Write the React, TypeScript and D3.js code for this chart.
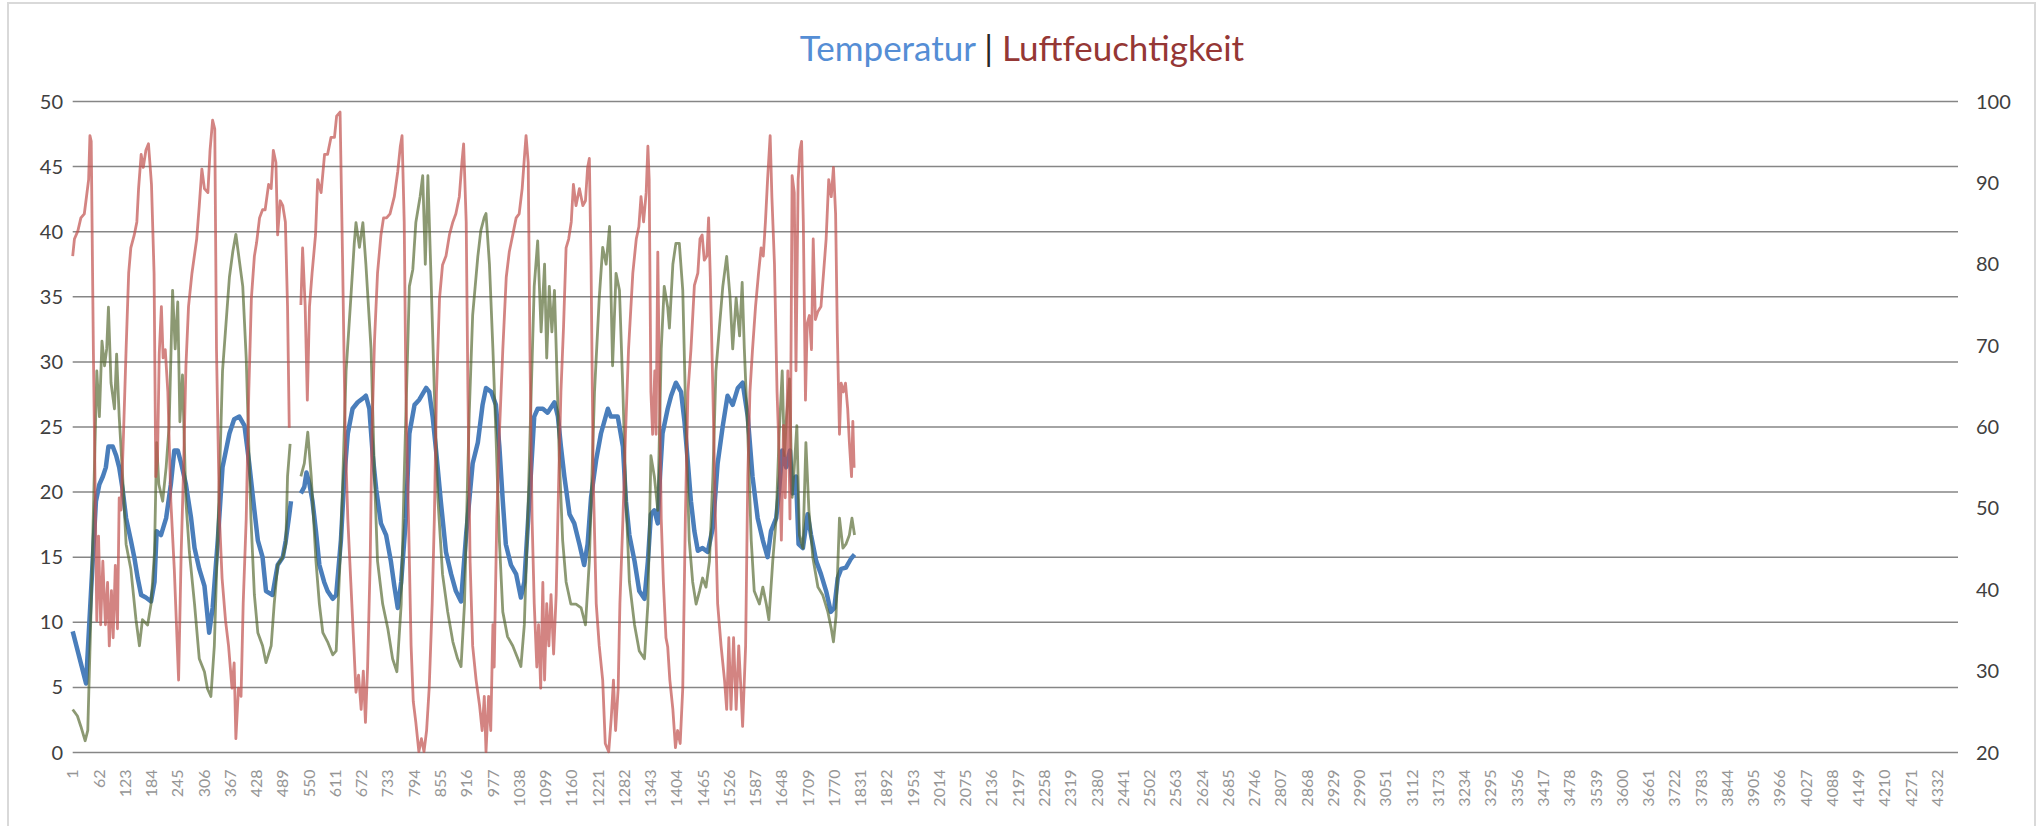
import React from "react";
import * as d3 from "d3";

const W = 2041;
const H = 826;

// category axis: 1..4380, labels every 61st category
const categoryCount = 4380;
const xTickLabels: number[] = d3.range(1, 4333, 61);
const leftTicks = [0, 5, 10, 15, 20, 25, 30, 35, 40, 45, 50];
const rightTicks = [20, 30, 40, 50, 60, 70, 80, 90, 100];

type Pt = [number, number | null];

// Temperatur (blue, left axis)
const temperatur: Pt[] = [
  [1, 9.3], [32, 5.3], [55, 19.3], [63, 20.6], [71, 21.2], [78, 21.9], [84, 23.5], [94, 23.5], [102, 22.8], [109, 21.9],
  [117, 20.2], [125, 18.0], [136, 16.3], [144, 15.0], [152, 13.4], [160, 12.1], [171, 11.9], [183, 11.6], [191, 13.1], [196, 17.0],
  [206, 16.7], [218, 18.0], [229, 20.6], [237, 23.2], [245, 23.2], [253, 22.2], [264, 20.6], [276, 18.0], [284, 15.7], [295, 14.1],
  [307, 12.8], [318, 9.2], [326, 11.1], [338, 16.3], [349, 21.9], [365, 24.5], [376, 25.6], [388, 25.8], [400, 25.1], [411, 22.2],
  [423, 18.6], [431, 16.3], [442, 15.0], [450, 12.4], [465, 12.1], [477, 14.4], [489, 15.0], [496, 16.3], [503, 18.0], [508, 19.3],
  [518, null],
  [531, 19.9], [539, 20.4], [544, 21.5], [551, 20.6], [558, 19.3], [566, 17.0], [574, 14.4], [585, 13.1], [593, 12.4], [605, 11.8],
  [613, 12.1], [624, 16.3], [632, 21.2], [640, 24.5], [651, 26.4], [663, 26.9], [675, 27.2], [682, 27.4], [690, 26.4], [698, 22.8],
  [706, 20.2], [717, 17.6], [729, 16.7], [740, 14.7], [748, 12.8], [756, 11.1], [764, 13.1], [775, 18.0], [783, 24.5], [795, 26.7],
  [806, 27.1], [822, 28.0], [829, 27.7], [837, 25.8], [845, 23.2], [856, 19.3], [868, 15.4], [880, 13.7], [891, 12.4], [903, 11.6],
  [915, 16.8], [930, 22.2], [942, 23.8], [953, 26.7], [961, 28.0], [973, 27.7], [984, 26.7], [992, 23.5], [1000, 19.3], [1007, 16.0],
  [1019, 14.4], [1031, 13.7], [1042, 11.9], [1050, 13.1], [1062, 19.6], [1073, 25.8], [1081, 26.4], [1093, 26.4], [1104, 26.1], [1120, 26.9],
  [1128, 25.8], [1135, 23.5], [1143, 21.2], [1155, 18.3], [1166, 17.6], [1178, 16.0], [1189, 14.4], [1197, 16.0], [1205, 19.6], [1217, 22.5],
  [1228, 24.5], [1244, 26.4], [1251, 25.8], [1267, 25.8], [1279, 23.5], [1286, 19.3], [1294, 16.7], [1306, 14.7], [1317, 12.4], [1329, 11.8],
  [1337, 14.7], [1344, 18.3], [1352, 18.6], [1360, 17.6], [1364, 20.6], [1371, 24.5], [1383, 26.4], [1391, 27.4], [1402, 28.4], [1414, 27.7],
  [1422, 25.4], [1430, 22.2], [1437, 19.3], [1445, 17.0], [1453, 15.5], [1464, 15.7], [1476, 15.4], [1488, 17.3], [1499, 22.2], [1511, 25.1],
  [1522, 27.4], [1534, 26.7], [1546, 28.0], [1557, 28.4], [1569, 25.8], [1580, 21.2], [1592, 18.0], [1604, 16.3], [1615, 15.0], [1623, 17.0],
  [1635, 18.0], [1642, 20.2], [1649, 23.2], [1658, 21.9], [1667, 23.2], [1673, 19.9], [1681, 21.2], [1687, 16.0], [1697, 15.7], [1708, 18.3],
  [1716, 16.7], [1728, 14.7], [1739, 13.7], [1751, 12.4], [1762, 10.8], [1770, 11.1], [1778, 13.4], [1786, 14.1], [1797, 14.2], [1809, 14.9],
  [1817, 15.2],
];

// second temperature series (olive, left axis)
const temperatur2: Pt[] = [
  [1, 3.3], [12, 2.8], [20, 2.0], [30, 0.9], [36, 1.7], [44, 11.4], [51, 21.2], [57, 29.3], [63, 25.8], [69, 31.6],
  [75, 29.7], [80, 31.0], [84, 34.2], [90, 28.4], [98, 26.4], [103, 30.6], [109, 25.8], [117, 21.2], [125, 16.0], [136, 14.1],
  [148, 10.2], [156, 8.2], [163, 10.2], [175, 9.8], [183, 11.4], [191, 15.4], [196, 23.8], [201, 20.6], [210, 19.3], [218, 21.9],
  [225, 25.1], [233, 35.5], [239, 31.0], [245, 34.6], [250, 25.4], [256, 29.0], [264, 19.3], [272, 15.4], [284, 11.4], [295, 7.2],
  [307, 6.2], [314, 4.9], [322, 4.3], [330, 8.2], [342, 21.2], [349, 29.3], [357, 32.9], [365, 36.5], [373, 38.5], [380, 39.8],
  [388, 37.8], [396, 35.8], [404, 30.3], [415, 18.0], [423, 12.1], [431, 9.2], [442, 8.2], [450, 6.9], [462, 8.2], [469, 11.4],
  [477, 14.4], [489, 15.0], [496, 16.0], [500, 21.2], [506, 23.7],
  [518, null],
  [531, 21.2], [539, 22.2], [547, 24.6], [555, 21.2], [566, 14.7], [574, 11.4], [582, 9.2], [593, 8.5], [605, 7.5], [613, 7.8],
  [624, 16.3], [636, 29.3], [647, 34.9], [655, 39.1], [659, 40.7], [667, 38.8], [675, 40.7], [682, 37.5], [694, 31.0], [702, 21.2],
  [709, 14.7], [721, 11.4], [733, 9.5], [744, 7.2], [754, 6.2], [764, 11.4], [771, 21.2], [783, 35.8], [791, 37.1], [798, 40.7],
  [808, 42.7], [814, 44.3], [820, 37.5], [826, 44.3], [833, 36.8], [841, 27.7], [849, 19.6], [860, 13.7], [872, 10.8], [884, 8.5],
  [895, 7.2], [903, 6.6], [911, 11.4], [922, 26.0], [930, 33.6], [942, 38.1], [949, 40.1], [957, 41.1], [961, 41.4], [969, 37.5],
  [977, 31.0], [984, 24.5], [992, 16.3], [1000, 10.8], [1011, 8.9], [1023, 8.2], [1035, 7.2], [1042, 6.6], [1050, 9.8], [1058, 18.0],
  [1066, 27.7], [1073, 35.8], [1081, 39.3], [1089, 32.3], [1097, 37.5], [1102, 30.3], [1108, 35.8], [1114, 32.3], [1120, 35.5], [1125, 30.0],
  [1131, 22.8], [1139, 16.3], [1147, 13.1], [1158, 11.4], [1170, 11.4], [1182, 11.1], [1192, 9.8], [1201, 14.7], [1213, 27.7], [1224, 34.9],
  [1232, 38.8], [1240, 37.5], [1248, 40.4], [1255, 29.7], [1263, 36.8], [1271, 35.5], [1279, 27.7], [1286, 19.6], [1294, 13.1], [1306, 9.8],
  [1317, 7.8], [1329, 7.2], [1337, 11.4], [1344, 22.8], [1352, 21.2], [1360, 18.6], [1368, 31.0], [1375, 35.8], [1383, 34.2], [1387, 32.6],
  [1395, 37.5], [1402, 39.1], [1410, 39.1], [1418, 35.5], [1426, 24.5], [1433, 16.3], [1441, 13.1], [1449, 11.4], [1457, 12.4], [1464, 13.4],
  [1472, 12.7], [1480, 14.7], [1488, 21.2], [1495, 29.3], [1503, 32.6], [1511, 35.8], [1520, 38.1], [1528, 34.9], [1534, 31.0], [1542, 34.9],
  [1550, 32.0], [1556, 36.1], [1561, 31.0], [1569, 24.5], [1577, 16.3], [1584, 12.4], [1596, 11.4], [1604, 12.7], [1612, 11.4], [1618, 10.2],
  [1627, 14.7], [1635, 18.0], [1642, 24.5], [1649, 29.3], [1654, 22.8], [1659, 25.8], [1666, 28.7], [1672, 19.6], [1677, 21.9], [1683, 25.1],
  [1689, 16.7], [1697, 15.7], [1704, 23.8], [1711, 18.6], [1720, 15.0], [1732, 12.7], [1743, 12.1], [1755, 10.8], [1763, 9.5], [1768, 8.5],
  [1774, 10.5], [1782, 18.0], [1790, 15.7], [1797, 16.0], [1805, 16.7], [1811, 18.0], [1817, 16.7],
];

// Luftfeuchtigkeit (red, right axis)
const luftfeuchtigkeit: Pt[] = [
  [1, 81.0], [5, 83.1], [13, 84.1], [20, 85.7], [28, 86.2], [33, 88.3], [38, 90.4], [41, 95.8], [44, 95.1], [49, 69.5],
  [54, 48.7], [57, 36.2], [61, 46.6], [66, 35.7], [71, 43.5], [77, 35.7], [82, 40.9], [86, 33.1], [91, 39.9], [95, 34.1],
  [100, 43.0], [105, 35.2], [109, 51.3], [113, 49.8], [119, 59.1], [125, 69.5], [131, 78.9], [136, 82.0], [144, 83.6], [150, 85.2],
  [154, 89.3], [160, 93.5], [165, 91.9], [171, 94.0], [177, 94.8], [184, 89.8], [190, 78.9], [194, 53.9], [198, 56.0], [202, 69.0],
  [207, 74.8], [211, 68.5], [216, 69.5], [222, 64.3], [229, 50.8], [237, 42.5], [242, 35.7], [247, 28.9], [253, 44.6], [258, 53.9],
  [264, 67.5], [270, 74.8], [278, 78.9], [289, 83.1], [295, 87.2], [301, 91.7], [307, 89.3], [315, 88.8], [320, 94.0], [326, 97.7],
  [331, 96.6], [335, 69.5], [342, 48.7], [348, 41.4], [356, 36.2], [363, 33.1], [371, 27.9], [376, 31.0], [380, 21.7], [386, 27.9],
  [392, 26.9], [397, 38.3], [404, 48.7], [410, 64.3], [416, 75.8], [423, 81.0], [428, 82.6], [435, 85.7], [442, 86.7], [448, 86.7],
  [456, 89.8], [462, 89.3], [467, 94.0], [473, 92.5], [477, 83.6], [483, 87.8], [489, 87.2], [495, 85.2], [500, 74.8], [504, 59.9],
  [518, null],
  [531, 75.0], [535, 82.0], [541, 74.8], [546, 63.3], [551, 74.8], [557, 78.9], [565, 83.6], [570, 90.4], [578, 88.8], [586, 93.5],
  [593, 93.5], [601, 95.6], [609, 95.6], [614, 98.2], [622, 98.7], [628, 80.0], [634, 59.1], [640, 48.7], [647, 40.9], [654, 33.1],
  [659, 27.4], [665, 29.5], [671, 25.3], [676, 30.0], [681, 23.7], [686, 30.5], [692, 43.5], [696, 59.1], [702, 70.6], [709, 78.9],
  [717, 83.6], [723, 85.7], [730, 85.7], [738, 86.2], [748, 88.3], [756, 91.4], [762, 94.5], [766, 95.8], [771, 85.2], [775, 64.3],
  [781, 48.7], [787, 33.1], [792, 26.3], [798, 23.7], [805, 20.1], [811, 21.7], [817, 20.1], [823, 22.7], [829, 27.9], [836, 38.3],
  [841, 48.7], [846, 64.3], [853, 75.8], [860, 79.9], [868, 81.0], [876, 83.6], [884, 85.2], [891, 86.2], [899, 88.3], [905, 92.5],
  [909, 94.8], [915, 85.2], [919, 64.3], [924, 43.5], [930, 33.1], [938, 28.9], [946, 25.8], [952, 22.7], [957, 26.9], [961, 20.1],
  [967, 26.9], [972, 22.7], [977, 35.7], [980, 30.5], [986, 48.7], [992, 59.1], [1000, 69.5], [1008, 78.4], [1015, 81.5], [1023, 83.6],
  [1031, 85.7], [1038, 86.2], [1045, 89.3], [1050, 93.0], [1054, 95.8], [1059, 92.5], [1063, 69.5], [1068, 48.7], [1073, 38.3], [1079, 30.5],
  [1083, 35.7], [1088, 27.9], [1093, 40.9], [1097, 28.9], [1102, 38.3], [1107, 33.1], [1112, 39.4], [1118, 32.1], [1124, 39.4], [1130, 53.9],
  [1135, 64.3], [1141, 72.2], [1147, 82.0], [1153, 83.1], [1159, 85.2], [1164, 89.8], [1170, 87.2], [1178, 89.3], [1186, 87.2], [1192, 87.8],
  [1197, 91.9], [1201, 93.0], [1205, 80.0], [1210, 53.9], [1217, 38.3], [1224, 33.1], [1232, 28.9], [1238, 21.1], [1246, 20.1], [1252, 24.3],
  [1257, 28.9], [1262, 22.7], [1268, 27.9], [1272, 38.3], [1279, 48.7], [1285, 59.1], [1292, 69.5], [1302, 78.9], [1310, 83.1], [1316, 84.6],
  [1321, 88.3], [1327, 85.2], [1333, 88.8], [1337, 94.5], [1340, 90.4], [1344, 64.3], [1348, 59.1], [1353, 66.9], [1356, 59.1], [1360, 81.5],
  [1364, 64.3], [1368, 48.7], [1373, 40.9], [1379, 34.1], [1383, 33.0], [1388, 28.9], [1395, 25.3], [1401, 20.6], [1406, 22.7], [1412, 21.1],
  [1418, 27.9], [1424, 48.7], [1430, 64.3], [1437, 69.5], [1445, 77.4], [1453, 78.9], [1458, 83.1], [1463, 83.6], [1468, 80.5], [1474, 81.0],
  [1478, 85.7], [1482, 78.4], [1488, 64.3], [1494, 48.7], [1499, 38.3], [1507, 33.1], [1515, 28.9], [1520, 25.3], [1525, 34.1], [1530, 25.3],
  [1536, 34.1], [1542, 25.3], [1548, 33.1], [1553, 27.9], [1557, 23.2], [1564, 33.1], [1569, 53.9], [1574, 64.3], [1580, 69.5], [1587, 74.8],
  [1594, 78.9], [1600, 82.0], [1605, 81.0], [1610, 85.2], [1615, 90.4], [1621, 95.8], [1625, 88.3], [1631, 80.0], [1637, 64.3], [1642, 56.5],
  [1647, 46.1], [1652, 60.2], [1656, 51.3], [1662, 66.9], [1667, 48.7], [1672, 90.9], [1677, 88.8], [1681, 66.9], [1686, 90.4], [1690, 94.0],
  [1694, 95.1], [1698, 85.2], [1703, 63.3], [1707, 72.7], [1712, 73.7], [1717, 69.5], [1721, 83.1], [1726, 73.2], [1732, 74.2], [1739, 74.8],
  [1745, 78.9], [1751, 83.1], [1757, 90.4], [1763, 88.3], [1768, 91.9], [1773, 86.2], [1777, 71.6], [1782, 59.1], [1786, 65.4], [1791, 64.3],
  [1796, 65.4], [1801, 62.3], [1805, 58.1], [1810, 53.9], [1813, 60.7], [1816, 55.0],
];

const FONT = "Lato, 'Open Sans', sans-serif";

export default function App() {
  const plotLeft = 72.7;
  const plotRight = 1958;
  const plotTop = 101.5;
  const plotBottom = 752.5;

  const x = d3.scaleLinear().domain([1, categoryCount]).range([plotLeft, plotRight]);
  const yL = d3.scaleLinear().domain([0, 50]).range([plotBottom, plotTop]);
  const yR = d3.scaleLinear().domain([20, 100]).range([plotBottom, plotTop]);

  const lineL = d3
    .line<Pt>()
    .defined((d) => d[1] != null)
    .x((d) => x(d[0]))
    .y((d) => yL(d[1] as number));
  const lineR = d3
    .line<Pt>()
    .defined((d) => d[1] != null)
    .x((d) => x(d[0]))
    .y((d) => yR(d[1] as number));

  return (
    <div style={{ position: "fixed", left: 0, top: 0, width: W, height: H, background: "#fff" }}>
      <svg width={W} height={H} style={{ display: "block" }}>
        <rect x={8} y={3} width={2027} height={830} fill="#fff" stroke="#d9d9d9" strokeWidth={2} />

        <text x={1022} y={61} textAnchor="middle" fontFamily={FONT} fontSize={35}>
          <tspan fill="#558ed5">Temperatur</tspan>
          <tspan fill="#262626"> | </tspan>
          <tspan fill="#953735">Luftfeuchtigkeit</tspan>
        </text>

        {leftTicks.map((t) => (
          <line key={"g" + t} x1={plotLeft} x2={plotRight} y1={yL(t)} y2={yL(t)} stroke="#868686" strokeWidth={1.5} />
        ))}

        {leftTicks.map((t) => (
          <text key={"l" + t} x={63} y={yL(t)} dy="0.35em" textAnchor="end" fontFamily={FONT} fontSize={20} fill="#404040">
            {t}
          </text>
        ))}
        {rightTicks.map((t) => (
          <text key={"r" + t} x={1976} y={yR(t)} dy="0.35em" textAnchor="start" fontFamily={FONT} fontSize={20} fill="#404040">
            {t}
          </text>
        ))}

        {xTickLabels.map((t) => (
          <text
            key={"x" + t}
            transform={`translate(${x(t)},${plotBottom + 17}) rotate(-90)`}
            dy="0.35em"
            textAnchor="end"
            fontFamily={FONT}
            fontSize={16}
            fill="#969696"
          >
            {t}
          </text>
        ))}

        <path d={lineL(temperatur) || ""} fill="none" stroke="#4a7ebb" strokeWidth={4.5} strokeLinejoin="round" />
        <path d={lineL(temperatur2) || ""} fill="none" stroke="#4f6228" strokeOpacity={0.65} strokeWidth={2.8} strokeLinejoin="round" />
        <path d={lineR(luftfeuchtigkeit) || ""} fill="none" stroke="#c0504d" strokeOpacity={0.7} strokeWidth={2.8} strokeLinejoin="round" />
      </svg>
    </div>
  );
}
